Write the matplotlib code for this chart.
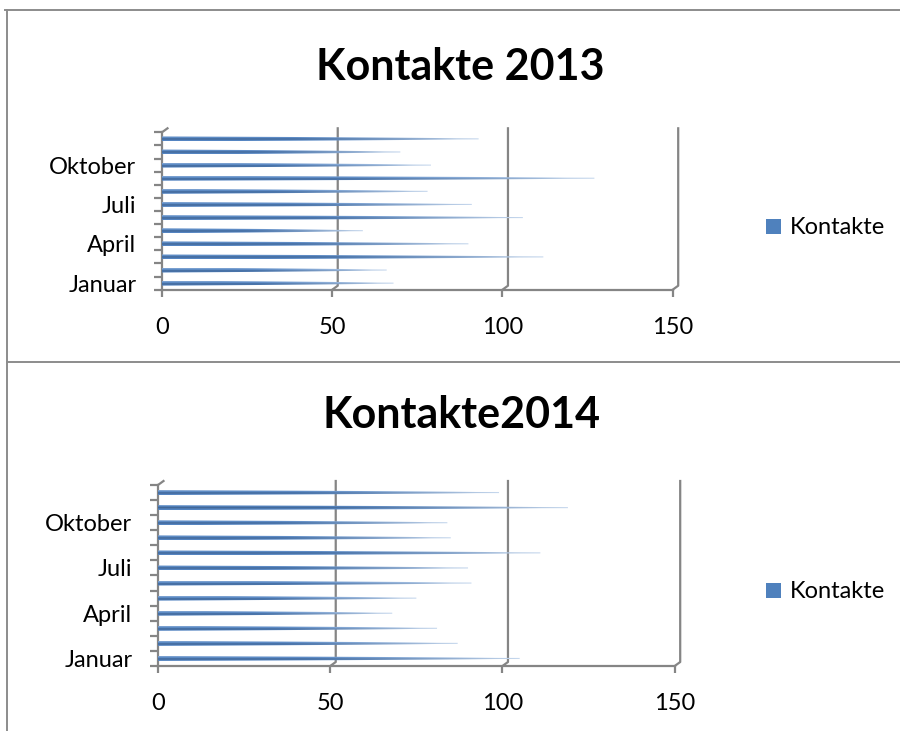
import numpy as np
import matplotlib
matplotlib.use("Agg")
import matplotlib.pyplot as plt
from matplotlib.patches import Polygon, Patch
from matplotlib.colors import to_rgb

plt.rcParams['font.family'] = ['Lato', 'DejaVu Sans']

# ---------------- data ----------------
months = ["Januar", "Februar", "März", "April", "Mai", "Juni", "Juli",
          "August", "September", "Oktober", "November", "Dezember"]
shown_months = ["Januar", "April", "Juli", "Oktober"]
kontakte_2013 = [68, 66, 112, 90, 59, 106, 91, 78, 127, 79, 70, 93]
kontakte_2014 = [105, 87, 81, 68, 75, 91, 90, 111, 85, 84, 119, 99]
x_ticks = [0, 50, 100, 150]
titles = ["Kontakte 2013", "Kontakte2014"]
series_name = "Kontakte"

W, H = 900, 731
fig = plt.figure(figsize=(W / 100, H / 100), dpi=100)

GRAY = "#858585"
BLUE = "#4F81BD"
FS = 17


def rect(left, right, top, bottom):
    return [left / W, 1 - bottom / H, (right - left) / W, (bottom - top) / H]


# background frame (pixel coordinates)
bg = fig.add_axes([0, 0, 1, 1])
bg.set_xlim(0, W)
bg.set_ylim(H, 0)
bg.axis("off")
bg.plot([5, 900], [9.5, 9.5], color="#8C8C8C", lw=1.4)
bg.plot([7, 7], [9.5, 731], color="#8C8C8C", lw=1.4)
bg.plot([7, 900], [362, 362], color="#8C8C8C", lw=1.4)


def cone_image():
    nx, ny = 300, 30
    u = np.linspace(0, 1, nx)[None, :]
    v = np.linspace(-1, 1, ny)[:, None]
    c0 = np.array(to_rgb("#5586C4"))
    c1 = np.array(to_rgb("#C8D9EE"))
    t = np.clip((u - 0.4) / 0.6, 0, 1) ** 1.3
    img = c0[None, None, :] * (1 - t[..., None]) + c1[None, None, :] * t[..., None]
    img = np.broadcast_to(img, (ny, nx, 3)).copy()
    # darker streak slightly below center
    dark = np.exp(-((v + 0.2) ** 2) / 0.08) * (1 - u ** 2)
    img = img * (1 - 0.28 * dark[..., None])
    # lighter upper edge
    light = np.clip((v - 0.3) / 0.7, 0, 1) * 0.30
    img = img * (1 - light[..., None]) + light[..., None]
    return np.clip(img, 0, 1)


IMG = cone_image()


def draw_chart(values, ax_box, title, title_xy, legend_xy, dx_px=5.5, dy_px=4.0):
    ax = fig.add_axes(rect(*ax_box))
    n = len(months)
    xmax = x_ticks[-1]
    ax.set_xlim(0, xmax)
    ax.set_ylim(-0.5, n - 0.5)
    for s in ["top", "right"]:
        ax.spines[s].set_visible(False)
    for s in ["left", "bottom"]:
        ax.spines[s].set_color(GRAY)
        ax.spines[s].set_linewidth(1.6)
    ax.patch.set_alpha(0)

    px_per_x = (ax_box[1] - ax_box[0]) / xmax
    px_per_y = (ax_box[3] - ax_box[2]) / n
    dx = dx_px / px_per_x
    dy = dy_px / px_per_y

    # back wall gridlines + floor diagonals
    for xv in x_ticks[1:]:
        ax.plot([xv, xv + dx, xv + dx], [-0.5, -0.5 + dy, n - 0.5 + dy],
                color=GRAY, lw=1.6, clip_on=False, zorder=1,
                solid_joinstyle="round")
    ax.plot([0, dx], [n - 0.5, n - 0.5 + dy], color=GRAY, lw=1.6,
            clip_on=False, zorder=1)

    # cone bars (perspective cone profile)
    h = 2.5 / px_per_y
    hmin = 0.55 / px_per_y
    uu = np.linspace(0, 1, 60)
    prof = np.maximum(h * (1 - uu) ** 0.55, hmin)
    for i, val in enumerate(values):
        xs = uu * val
        pts = np.concatenate([np.column_stack([xs, i + prof]),
                              np.column_stack([xs[::-1], i - prof[::-1]])])
        poly = Polygon(pts, closed=True, transform=ax.transData,
                       facecolor="none", edgecolor="none")
        im = ax.imshow(IMG, extent=(0, val, i - h, i + h), aspect="auto",
                       origin="lower", interpolation="bilinear", zorder=3)
        im.set_clip_path(poly)
    ax.set_xlim(0, xmax)
    ax.set_ylim(-0.5, n - 0.5)

    ax.set_xticks(x_ticks)
    ax.set_xticklabels([str(v) for v in x_ticks])
    ax.tick_params(axis="x", length=5, width=1.6, color=GRAY, pad=14.5,
                   labelsize=FS)
    ax.set_yticks([months.index(m) for m in shown_months])
    ax.set_yticklabels(shown_months)
    ax.tick_params(axis="y", which="major", length=0, pad=18.5, labelsize=FS)
    ax.set_yticks(np.arange(-0.5, n, 1), minor=True)
    ax.tick_params(axis="y", which="minor", length=6, width=1.6, color=GRAY)

    fig.text(title_xy[0] / W, 1 - title_xy[1] / H, title, ha="center",
             va="center", fontsize=31, fontweight="bold")
    fig.legend(handles=[Patch(facecolor=BLUE, edgecolor="none")],
               labels=[series_name], loc="center left",
               bbox_to_anchor=(legend_xy[0] / W, 1 - legend_xy[1] / H),
               frameon=False, fontsize=FS, handlelength=0.62,
               handleheight=0.62, handletextpad=0.38, borderpad=0,
               borderaxespad=0)
    return ax


draw_chart(kontakte_2013, (162, 672.7, 132.3, 289.7), titles[0], (460, 67), (766, 228))
draw_chart(kontakte_2014, (158, 674.7, 485, 666), titles[1], (462, 415), (766, 592))

fig.savefig("out.png", dpi=100)
